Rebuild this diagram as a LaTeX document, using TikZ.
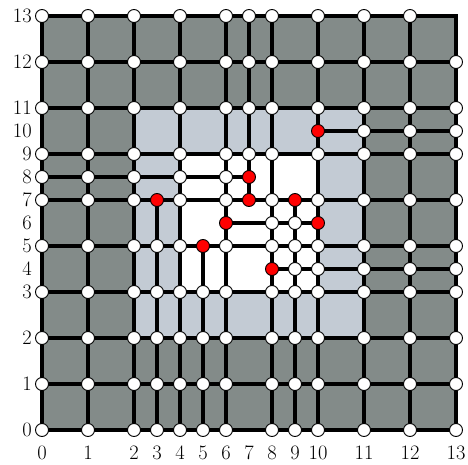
\documentclass[tikz,border=0pt]{standalone}
\usetikzlibrary{backgrounds}
\definecolor{darkreg}{RGB}{131,139,137}
\definecolor{lightreg}{RGB}{195,203,212}
\begin{document}
\begin{tikzpicture}[x=23pt,y=23pt,
  declare function={xpos(\k)=(\k<=2) ? 2*\k : ((\k<=10) ? \k+2 : 2*\k-8);
                    ypos(\k)=(\k<=3) ? 2*\k : ((\k<=11) ? \k+3 : 2*\k-8);},
  gnode/.style={circle,draw=black,line width=0.9pt,fill=white,minimum size=13pt,inner sep=0pt},
  rnode/.style={gnode,fill=red},
  edge/.style={line width=4.5pt,line cap=rect},
  lab/.style={font=\fontsize{20.5}{24}\selectfont,inner sep=0pt}]
\useasboundingbox (-42pt,-34pt) rectangle (426pt,430pt);
% white nodes
\foreach \y/\xs in {
  13/{0,1,2,4,6,7,8,10,11,12},
  12/{0,1,2,4,6,7,8,10,11,12,13},
  11/{0,1,2,4,6,7,8,10,11,12,13},
  10/{11,12,13},
  9/{0,1,2,4,6,7,8,10,11,12,13},
  8/{0,1,2,4,6},
  7/{0,1,2,4,6,8,10,11,12,13},
  6/{8,9},
  5/{0,1,2,3,4,6,8,9,10,11,12,13},
  4/{9,10,11,12,13},
  3/{0,1,2,3,4,5,6,8,9,10,11,12,13},
  2/{0,1,2,3,4,5,6,8,9,10,11,12,13},
  1/{0,1,2,3,4,5,6,8,9,10,11,12,13},
  0/{0,1,2,3,4,5,6,8,9,10,11,12,13}}
  {\foreach \x in \xs {\node[gnode] (n\x-\y) at ({xpos(\x)},{ypos(\y)}) {};}}
% red nodes
\foreach \x/\y in {3/7,7/8,7/7,9/7,6/6,10/6,5/5,8/4,10/10}
  {\node[rnode] (n\x-\y) at ({xpos(\x)},{ypos(\y)}) {};}
\coordinate (n13-13) at ({xpos(13)},{ypos(13)});
% labels
\foreach \k in {0,...,13}{
  \node[lab,yshift=-22.5pt] (lx\k) at ({xpos(\k)},0) {\k};
  \node[lab,anchor=east,xshift=-10pt] (ly\k) at (0,{ypos(\k)}) {\k};
}
\begin{pgfonlayer}{background}
\fill[darkreg] (n0-0.center) rectangle (n13-13);
\fill[lightreg] (n2-2.center) rectangle (n11-11.center);
\fill[white] (n4-3.center) rectangle (n10-9.center);
% rows
\foreach \y/\xs in {
  13/{0,1,2,4,6,7,8,10,11,12,13},
  12/{0,1,2,4,6,7,8,10,11,12,13},
  11/{0,1,2,4,6,7,8,10,11,12,13},
  10/{10,11,12,13},
  9/{0,1,2,4,6,7,8,10,11,12,13},
  8/{0,1,2,4,6,7},
  7/{0,1,2,3,4,6,7,8,9,10,11,12,13},
  6/{6,8,9,10},
  5/{0,1,2,3,4,5,6,8,9,10,11,12,13},
  4/{8,9,10,11,12,13},
  3/{0,1,2,3,4,5,6,8,9,10,11,12,13},
  2/{0,1,2,3,4,5,6,8,9,10,11,12,13},
  1/{0,1,2,3,4,5,6,8,9,10,11,12,13},
  0/{0,1,2,3,4,5,6,8,9,10,11,12,13}}
  {\foreach \x [count=\i, remember=\x as \px] in \xs
    {\ifnum\i>1 \draw[edge] (n\px-\y.center) -- (n\x-\y.center);\fi}}
% columns
\foreach \x/\ys in {
  0/{0,1,2,3,5,7,8,9,11,12,13},
  1/{0,1,2,3,5,7,8,9,11,12,13},
  2/{0,1,2,3,5,7,8,9,11,12,13},
  3/{0,1,2,3,5,7},
  4/{0,1,2,3,5,7,8,9,11,12,13},
  5/{0,1,2,3,5},
  6/{0,1,2,3,5,6,7,8,9,11,12,13},
  7/{7,8,9,11,12,13},
  8/{0,1,2,3,4,5,6,7,9,11,12,13},
  9/{0,1,2,3,4,5,6,7},
  10/{0,1,2,3,4,5,6,7,9,10,11,12,13},
  11/{0,1,2,3,4,5,7,9,10,11,12,13},
  12/{0,1,2,3,4,5,7,9,10,11,12,13},
  13/{0,1,2,3,4,5,7,9,10,11,12,13}}
  {\foreach \y [count=\i, remember=\y as \py] in \ys
    {\ifnum\i>1 \draw[edge] (n\x-\py.center) -- (n\x-\y.center);\fi}}
\end{pgfonlayer}
\end{tikzpicture}
\end{document}
